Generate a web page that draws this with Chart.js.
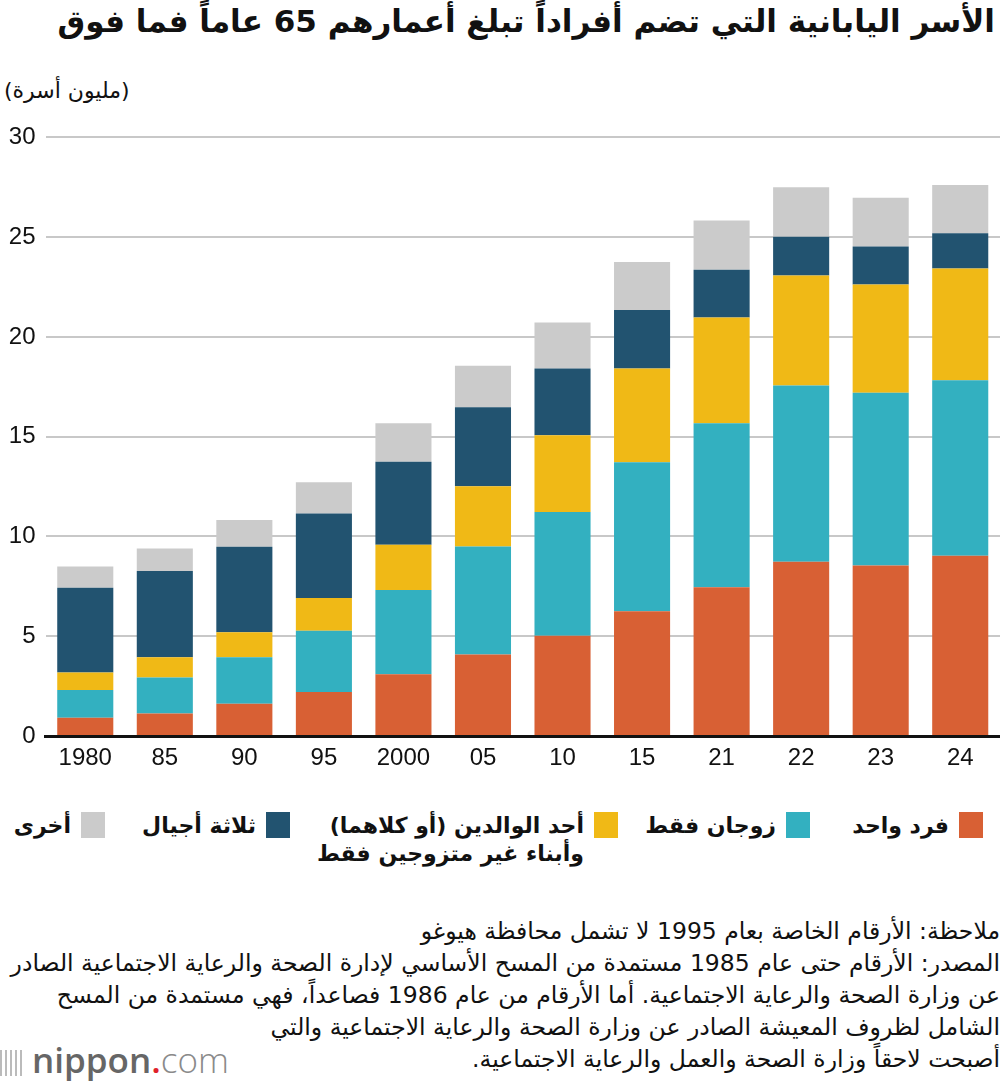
<!DOCTYPE html>
<html lang="ar">
<head>
<meta charset="utf-8">
<title>الأسر اليابانية التي تضم أفراداً تبلغ أعمارهم 65 عاماً فما فوق</title>
<script src="https://cdn.jsdelivr.net/npm/chart.js@4.4.0/dist/chart.umd.min.js"></script>
<style>
  html, body { margin: 0; padding: 0; background: #fff; }
  body { width: 1000px; height: 1084px; position: relative; overflow: hidden; font-family: "DejaVu Sans", sans-serif; color: #111; }
  #title { position: absolute; top: 3px; right: 5px; direction: rtl; font-weight: bold; font-size: 31px; white-space: nowrap; }
  #unit { position: absolute; top: 78px; left: 4px; direction: rtl; font-size: 22px; white-space: nowrap; }
  #chartBox { position: absolute; left: 0; top: 113px; width: 1000px; height: 667px; }
  .leg { position: absolute; top: 812px; direction: rtl; display: flex; align-items: flex-start; font-size: 22px; font-weight: bold; }
  .leg .sw { width: 24px; height: 26px; flex: none; margin-left: 10px; }
  .leg .tx { line-height: 28px; white-space: nowrap; text-align: right; }
  #notes { position: absolute; top: 915px; right: 0; width: 1000px; direction: rtl; text-align: right; font-size: 23.5px; line-height: 32px; white-space: nowrap; }
  #logo { position: absolute; left: 0; top: 1036px; font-family: "Open Sans", sans-serif; font-size: 35px; white-space: nowrap; }
  #logo .bars { display: inline-block; width: 24px; height: 26px; margin-right: 8px; vertical-align: -3px;
    background: repeating-linear-gradient(90deg, #bbb 0 2px, transparent 2px 5px); }
  #logo .n { color: #666; font-weight: 600; }
  #logo .d { color: #e0202a; font-weight: 600; }
  #logo .c { color: #8a8a8a; font-weight: 300; }
</style>
</head>
<body>
<div id="title">الأسر اليابانية التي تضم أفراداً تبلغ أعمارهم 65 عاماً فما فوق</div>
<div id="unit">(مليون أسرة)</div>
<div id="chartBox"><canvas id="chart"></canvas></div>
<div id="legend"></div>
<div id="notes">
  <div>ملاحظة: الأرقام الخاصة بعام 1995 لا تشمل محافظة هيوغو</div>
  <div>المصدر: الأرقام حتى عام 1985 مستمدة من المسح الأساسي لإدارة الصحة والرعاية الاجتماعية الصادر</div>
  <div>عن وزارة الصحة والرعاية الاجتماعية. أما الأرقام من عام 1986 فصاعداً، فهي مستمدة من المسح</div>
  <div>الشامل لظروف المعيشة الصادر عن وزارة الصحة والرعاية الاجتماعية والتي</div>
  <div>أصبحت لاحقاً وزارة الصحة والعمل والرعاية الاجتماعية.</div>
</div>
<div id="logo"><span class="bars"></span><span class="n">nippon</span><span class="d">.</span><span class="c">com</span></div>

<script>
// years (1980 ... 2024), million households
const categories = ['1980', '85', '90', '95', '2000', '05', '10', '15', '21', '22', '23', '24'];
const singlePerson = [0.92, 1.13, 1.62, 2.20, 3.10, 4.08, 5.02, 6.25, 7.45, 8.73, 8.55, 9.03];
const coupleOnly = [1.38, 1.80, 2.33, 3.08, 4.22, 5.42, 6.20, 7.47, 8.23, 8.84, 8.65, 8.80];
const parentAndChildren = [0.88, 1.02, 1.25, 1.64, 2.26, 3.02, 3.85, 4.70, 5.30, 5.51, 5.43, 5.60];
const threeGenerations = [4.25, 4.32, 4.28, 4.23, 4.17, 3.95, 3.35, 2.93, 2.39, 1.94, 1.90, 1.77];
const otherHouseholds = [1.07, 1.13, 1.35, 1.57, 1.92, 2.08, 2.30, 2.40, 2.46, 2.48, 2.44, 2.42];
const yTicks = [0, 5, 10, 15, 20, 25, 30];

const seriesLabels = [
    ['فرد واحد'],
    ['زوجان فقط'],
    ['أحد الوالدين (أو كلاهما)', 'وأبناء غير متزوجين فقط'],
    ['ثلاثة أجيال'],
    ['أخرى']
];
const seriesColors = ['#d86034', '#33b0c0', '#f0b916', '#225370', '#cbcbcb'];
const seriesData = [singlePerson, coupleOnly, parentAndChildren, threeGenerations, otherHouseholds];

// legend (right to left), square right edges in px from the page's right side
const legendRight = [17, 190, 382, 710, 895];
const legendEl = document.getElementById('legend');
seriesLabels.forEach((lines, i) => {
    const item = document.createElement('div');
    item.className = 'leg';
    item.style.right = legendRight[i] + 'px';
    item.innerHTML = '<span class="sw" style="background:' + seriesColors[i] + '"></span>' +
        '<span class="tx">' + lines.join('<br>') + '</span>';
    legendEl.appendChild(item);
});

const ctx = document.getElementById('chart').getContext('2d');

new Chart(ctx, {
    type: 'bar',
    data: {
        labels: categories,
        datasets: seriesData.map((d, i) => ({
            label: seriesLabels[i].join(' '),
            data: d,
            backgroundColor: seriesColors[i],
            borderWidth: 0,
            barPercentage: 0.705,
            categoryPercentage: 1
        }))
    },
    options: {
        responsive: true,
        maintainAspectRatio: false,
        animation: false,
        layout: { padding: { top: 20, right: 0, bottom: 0, left: 0 } },
        plugins: {
            legend: { display: false },
            title: { display: false },
            tooltip: { enabled: false }
        },
        scales: {
            x: {
                stacked: true,
                grid: { display: false, drawTicks: false },
                border: { display: true, color: '#111', width: 3 },
                ticks: {
                    color: '#111',
                    padding: 8,
                    font: { family: 'Liberation Sans', size: 24 }
                },
                afterFit: (s) => { s.height = 44; }
            },
            y: {
                stacked: true,
                min: 0,
                max: 30,
                afterBuildTicks: (s) => { s.ticks = yTicks.map(v => ({ value: v })); },
                grid: { color: '#c8c8c8', lineWidth: 2, drawTicks: false },
                border: { display: false },
                ticks: {
                    color: '#111',
                    padding: 10,
                    font: { family: 'Liberation Sans', size: 24 }
                },
                afterFit: (s) => { s.width = 45.5; }
            }
        }
    }
});
</script>
</body>
</html>
